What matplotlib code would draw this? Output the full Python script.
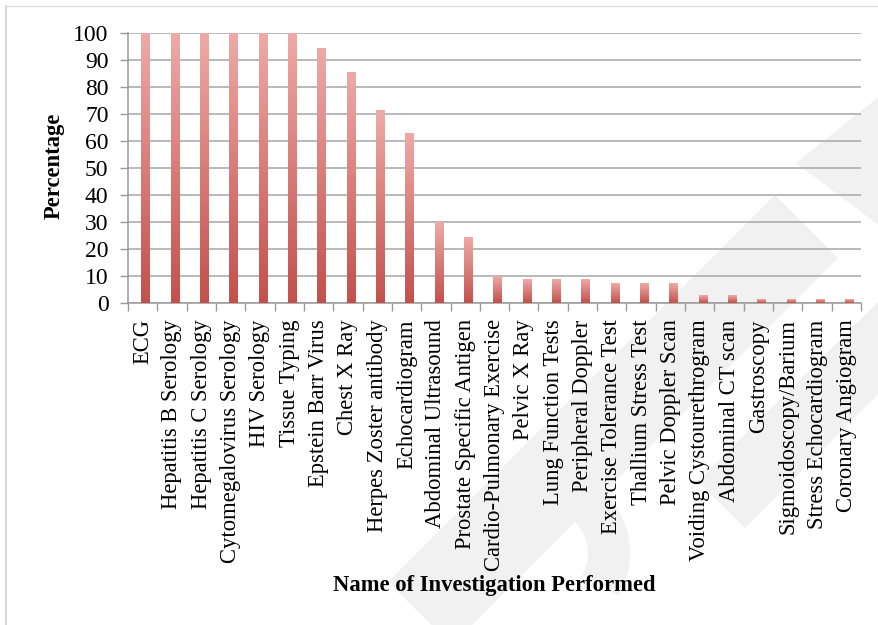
import numpy as np
import matplotlib
matplotlib.use("Agg")
import matplotlib.pyplot as plt
from matplotlib.colors import LinearSegmentedColormap
from matplotlib.patches import Polygon, Wedge

investigations = [
    "ECG", "Hepatitis B Serology", "Hepatitis C Serology",
    "Cytomegalovirus Serology", "HIV Serology", "Tissue Typing",
    "Epstein Barr Virus", "Chest X Ray", "Herpes Zoster antibody",
    "Echocardiogram", "Abdominal Ultrasound", "Prostate Specific Antigen",
    "Cardio-Pulmonary Exercise", "Pelvic X Ray", "Lung Function Tests",
    "Peripheral Doppler", "Exercise Tolerance Test", "Thallium Stress Test",
    "Pelvic Doppler Scan", "Voiding Cystourethrogram", "Abdominal CT scan",
    "Gastroscopy", "Sigmoidoscopy/Barium", "Stress Echocardiogram",
    "Coronary Angiogram",
]
percentages = [
    100, 100, 100, 100, 100, 100, 94.3, 85.7, 71.4, 62.9, 30.0, 24.3,
    10.0, 8.6, 8.6, 8.6, 7.1, 7.1, 7.1, 2.9, 2.9, 1.4, 1.4, 1.4, 1.4,
]
y_ticks = list(range(0, 101, 10))

W, H = 879, 625
fig = plt.figure(figsize=(W / 100, H / 100), dpi=100)
fig.patch.set_facecolor("white")


def px(x, y):
    return (x / W, 1 - y / H)


# faint background watermark shapes
wm = "#f1f1f1"
shapes = [
    [(796, 163), (880, 96), (880, 226)],
    [(775, 195), (838, 258), (452, 645), (388, 582)],
    [(880, 300), (880, 392), (745, 528), (698, 481)],
]
for pts in shapes:
    fig.patches.append(Polygon([px(*p) for p in pts], closed=True,
                               transform=fig.transFigure, facecolor=wm,
                               edgecolor="none", zorder=-5))
ring = Wedge((5.45, 0.72), 0.85, 330, 150, width=0.42,
             transform=fig.dpi_scale_trans, facecolor=wm, edgecolor="none",
             zorder=-5)
fig.patches.append(ring)

# thin frame on the left and top edges
fx, fy = px(6, 6)
fig.add_artist(plt.Line2D([fx, fx], [fy, 0], transform=fig.transFigure,
                          color="#cfcfcf", lw=1.2))
fig.add_artist(plt.Line2D([fx, 1], [fy, fy], transform=fig.transFigure,
                          color="#dedede", lw=1.0))

ax = fig.add_axes([128 / W, 1 - 302.7 / H, (861 - 128) / W, (302.7 - 33.3) / H])
ax.patch.set_alpha(0)

cmap = LinearSegmentedColormap.from_list("bar", ["#c3504c", "#eeaaa7"])
grad = np.linspace(0, 1, 256).reshape(-1, 1)
bar_w = 0.28
x = np.arange(len(investigations))
for xi, val in zip(x, percentages):
    ax.imshow(grad, cmap=cmap, origin="lower", aspect="auto",
              extent=[xi + 0.1 - bar_w / 2, xi + 0.1 + bar_w / 2, 0, val],
              zorder=3, interpolation="bilinear")

ax.set_xlim(-0.5, len(investigations) - 0.5)
ax.set_ylim(0, 100)

serif = ["Liberation Serif", "DejaVu Serif"]
ax.set_yticks(y_ticks)
ax.set_yticklabels([str(v) for v in y_ticks], family=serif, fontsize=17)
ax.set_xticks(x)
ax.set_xticklabels(investigations, rotation=90, family=serif, fontsize=16.3,
                   va="top", ha="center")
ax.set_xticks(np.arange(-0.5, len(investigations), 1), minor=True)
ax.tick_params(axis="x", which="major", length=0, pad=12)
ax.tick_params(axis="x", which="minor", length=6, width=1, color="#9a9a9a",
               direction="out")
ax.tick_params(axis="y", length=6, width=1, color="#9a9a9a", direction="out",
               pad=8)

ax.grid(axis="y", color="#a6a6a6", lw=1.1, zorder=0)
for side in ("top", "right"):
    ax.spines[side].set_visible(False)
for side in ("left", "bottom"):
    ax.spines[side].set_color("#9a9a9a")
    ax.spines[side].set_linewidth(1.1)

fig.text(54.5 / W, 1 - 166 / H, "Percentage", family=serif, fontsize=16.3,
         fontweight="bold", rotation=90, ha="center", va="center")
fig.text(494 / W, 1 - 586 / H, "Name of Investigation Performed",
         family=serif, fontsize=16.3, fontweight="bold", ha="center",
         va="center")

fig.savefig("out.png", dpi=100)
